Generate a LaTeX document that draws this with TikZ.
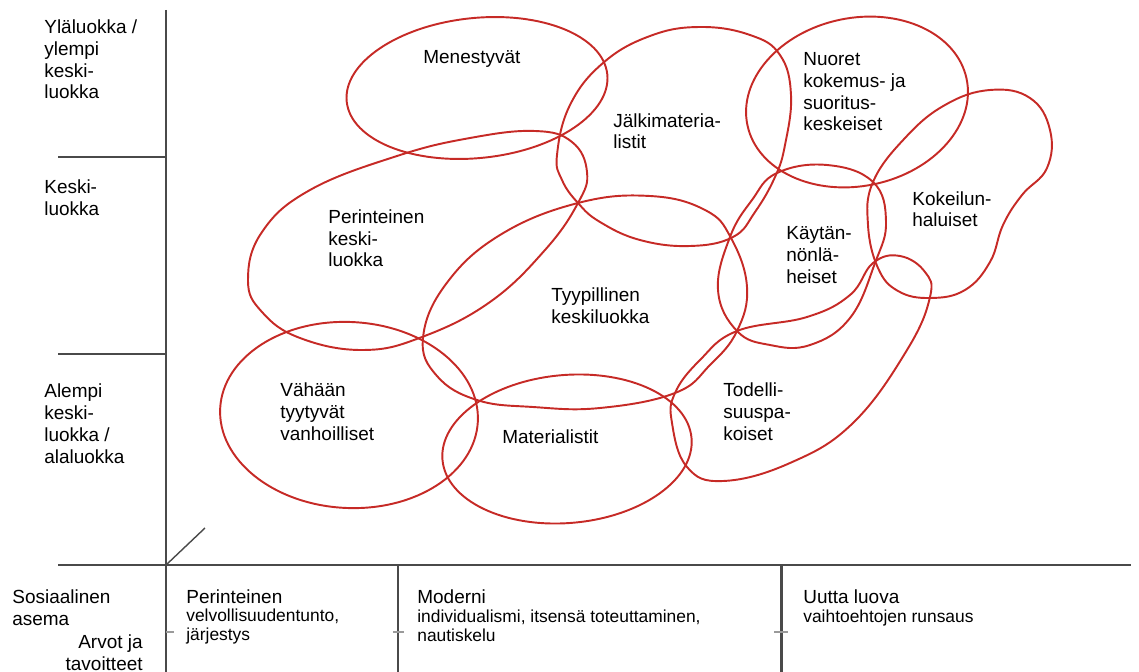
\documentclass[tikz,border=0pt]{standalone}
\usepackage{fontspec}
\setmainfont{Liberation Sans}
\definecolor{axisgray}{HTML}{4A4A4A}
\definecolor{ovalred}{HTML}{C62A26}
\definecolor{tickgray}{HTML}{9A9A9A}
\begin{document}
\begin{tikzpicture}[x=0.02cm,y=-0.02cm,
  axis/.style={draw=axisgray,line width=1.7pt},
  tickmark/.style={draw=tickgray,line width=0.6pt},
  oval/.style={draw=ovalred,line width=1.1pt},
  lbl/.style={inner sep=0pt,anchor=base west,align=left,font=\fontsize{10.8}{12.5}\selectfont},
  lblr/.style={inner sep=0pt,anchor=base east,align=right,font=\fontsize{10.8}{12.5}\selectfont},
  desc/.style={inner sep=0pt,anchor=base west,align=left,font=\fontsize{9.9}{10.4}\selectfont}]
\useasboundingbox (0,0) rectangle (1139,672);
% axes
\coordinate (vtop) at (166,10);
\coordinate (vbot) at (166,672);
\coordinate (h1a) at (58,157);
\coordinate (h1b) at (166,157);
\coordinate (h2a) at (58,354);
\coordinate (h2b) at (166,354);
\coordinate (h3a) at (58,565);
\coordinate (h3b) at (1131,565);
\coordinate (d1a) at (398,565);
\coordinate (d1b) at (398,672);
\coordinate (d2a) at (781,565);
\coordinate (d2b) at (781,672);
\coordinate (diag0) at (166,565);
\coordinate (diag1) at (205,528);
\path[axis] (vtop) -- (vbot);
\path[axis] (h1a) -- (h1b);
\path[axis] (h2a) -- (h2b);
\path[axis] (h3a) -- (h3b);
\path[axis] (d1a) -- (d1b);
\path[axis] (d2a) -- (d2b);
\draw[draw=axisgray,line width=0.8pt] (diag0) -- (diag1);
\coordinate (t1a) at (166,632); \coordinate (t1b) at (174,632);
\coordinate (t2a) at (393,632); \coordinate (t2b) at (404,632);
\coordinate (t3a) at (774,632); \coordinate (t3b) at (788,632);
\path[tickmark] (t1a) -- (t1b);
\path[tickmark] (t2a) -- (t2b);
\path[tickmark] (t3a) -- (t3b);
% red clusters
% Menestyvat
\draw[oval,rotate around={6:(477,88)}] (477,88) ellipse [x radius=131, y radius=70];
% Jalkimaterialistit
\draw[oval] plot[smooth cycle,tension=0.7] coordinates {(557,155) (570,105) (603,63) (650,36) (700,27) (750,35) (780,55) (791,95) (785,145) (775,177) (755,212) (733,237) (690,246) (640,240) (600,222) (578,203) (562,180)};
% Nuoret
\draw[oval,rotate around={12:(857,102)}] (857,102) ellipse [x radius=112, y radius=84];
% Kokeilunhaluiset
\draw[oval] plot[smooth cycle,tension=0.7] coordinates {(873,182) (905,138) (945,105) (990,90) (1030,98) (1050,130) (1047,168) (1022,195) (1003,225) (990,262) (965,290) (930,298) (898,291) (878,268) (868,225)};
% Kaytannonlaheiset
\draw[oval] plot[smooth cycle,tension=0.7] coordinates {(777,173) (827,165) (873,182) (886,222) (875,263) (850,318) (810,345) (770,345) (737,331) (718,290) (730,237) (752,200)};
% Perinteinen keskiluokka
\draw[oval] plot[smooth cycle,tension=0.7] coordinates {(248,280) (262,232) (310,190) (397,156) (470,138) (535,131) (572,142) (587,172) (578,203) (545,250) (490,302) (422,337) (363,350) (300,338) (262,312)};
% Tyypillinen keskiluokka
\draw[oval] plot[smooth cycle,tension=0.7] coordinates {(423,338) (446,284) (500,235) (578,203) (650,196) (705,210) (731,238) (747,287) (737,331) (710,365) (675,393) (600,408) (533,407) (477,400) (437,376)};
% Vahaan tyytyvat
\draw[oval,rotate around={-3:(349,415)}] (349,415) ellipse [x radius=129, y radius=93];
% Materialistit
\draw[oval,rotate around={5:(567,449)}] (567,449) ellipse [x radius=125, y radius=74];
% Todellisuuspakoiset
\draw[oval] plot[smooth cycle,tension=0.7] coordinates {(737,331) (807,317) (850,295) (873,263) (900,256) (925,272) (930,297) (907,350) (853,423) (790,463) (723,481) (687,467) (672,423) (675,393) (700,360)};
% axis labels (anchored at baseline of last line)
\node[lbl] (ylaluokka) at (44,99) {Yläluokka /\\ylempi\\keski-\\luokka};
\node[lbl] (keskiluokka) at (44,215) {Keski-\\luokka};
\node[lbl] (alempi) at (44,463) {Alempi\\keski-\\luokka /\\alaluokka};
\node[lbl] (sosiaalinen) at (12,625) {Sosiaalinen\\asema};
\node[lblr] (arvot) at (143,670) {Arvot ja\\tavoitteet};
\node[lbl] (perinteinenh) at (186,603) {Perinteinen};
\node[desc] (perinteinend) at (186,640) {velvollisuudentunto,\\järjestys};
\node[lbl] (modernih) at (417,603) {Moderni};
\node[desc] (modernid) at (417,641) {individualismi, itsensä toteuttaminen,\\nautiskelu};
\node[lbl] (uuttah) at (803,603) {Uutta luova};
\node[desc] (uuttad) at (803,622) {vaihtoehtojen runsaus};
% cluster labels
\node[lbl] (menestyvat) at (423,64) {Menestyvät};
\node[lbl] (jalkimat) at (613,149) {Jälkimateria-\\listit};
\node[lbl] (nuoret) at (803,131) {Nuoret\\kokemus- ja\\suoritus-\\keskeiset};
\node[lbl] (kokeilun) at (912,227) {Kokeilun-\\haluiset};
\node[lbl] (kaytannon) at (786,283) {Käytän-\\nönlä-\\heiset};
\node[lbl] (perinteinenk) at (328,267) {Perinteinen\\keski-\\luokka};
\node[lbl] (tyypillinen) at (551,323) {Tyypillinen\\keskiluokka};
\node[lbl] (vahaan) at (280,440) {Vähään\\tyytyvät\\vanhoilliset};
\node[lbl] (materialistit) at (502,443) {Materialistit};
\node[lbl] (todelli) at (723,440) {Todelli-\\suuspa-\\koiset};
\end{tikzpicture}
\end{document}
